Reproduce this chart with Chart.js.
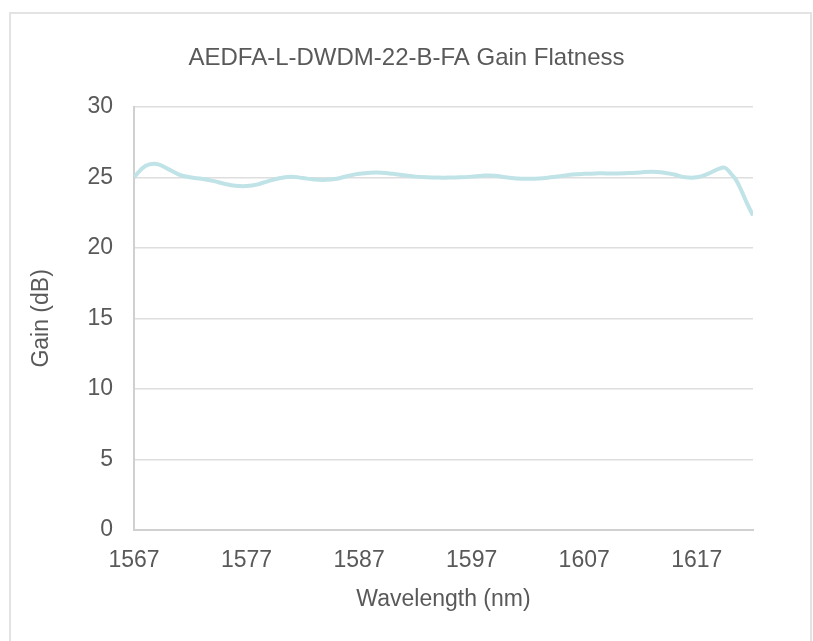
<!DOCTYPE html>
<html>
<head>
<meta charset="utf-8">
<script src="https://cdn.jsdelivr.net/npm/chart.js@4"></script>
<style>
  body { margin: 0; background: #fff; }
  #frame { position: absolute; left: 9px; top: 12px; width: 799px; height: 700px; border: 2px solid #e3e3e3; }
  #wrap { position: absolute; left: 0; top: 0; width: 813px; height: 641px; }
</style>
</head>
<body>
<div id="frame"></div>
<div id="wrap"><canvas id="myChart"></canvas></div>
<script>
let wavelength = [1567, 1568, 1569, 1570, 1571, 1572, 1573, 1574, 1575, 1576,
    1577, 1578, 1579, 1580, 1581, 1582, 1583, 1584, 1585, 1586,
    1587, 1588, 1589, 1590, 1591, 1592, 1593, 1594, 1595, 1596,
    1597, 1598, 1599, 1600, 1601, 1602, 1603, 1604, 1605, 1606,
    1607, 1608, 1609, 1610, 1611, 1612, 1613, 1614, 1615, 1616,
    1617, 1618, 1619, 1619.5, 1620, 1620.5, 1621, 1621.5, 1622];
let gain = [25.0, 25.8, 25.95, 25.6, 25.2, 25.0, 24.9, 24.75, 24.55, 24.4,
    24.38, 24.5, 24.75, 24.95, 25.05, 24.95, 24.85, 24.82, 24.9, 25.1,
    25.25, 25.33, 25.33, 25.25, 25.15, 25.05, 25.0, 24.98, 24.98, 25.0,
    25.05, 25.12, 25.12, 25.0, 24.92, 24.9, 24.92, 25.0, 25.1, 25.2,
    25.25, 25.28, 25.28, 25.28, 25.3, 25.35, 25.4, 25.35, 25.2, 25.0,
    25.0, 25.25, 25.62, 25.68, 25.3, 24.8, 24.0, 23.1, 22.3];
let xTicks = [1567, 1577, 1587, 1597, 1607, 1617];

let points = wavelength.map((w, i) => ({x: w, y: gain[i]}));
let textColor = "#595959";
let font = {family: "'Liberation Sans', Arial, sans-serif", size: 23};

new Chart("myChart", {
    type: "line",
    data: {
        datasets: [{
            data: points,
            borderColor: "#bfe3e6",
            borderWidth: 4,
            pointRadius: 0,
            tension: 0.4,
            fill: false
        }]
    },
    options: {
        responsive: true,
        maintainAspectRatio: false,
        animation: false,
        layout: {padding: 0},
        plugins: {
            legend: {display: false},
            tooltip: {enabled: false},
            title: {
                display: true,
                text: "AEDFA-L-DWDM-22-B-FA Gain Flatness",
                color: textColor,
                font: {family: font.family, size: 24, weight: "normal"},
                padding: {top: 44, bottom: 34}
            }
        },
        scales: {
            x: {
                type: "linear",
                min: 1567,
                max: 1622,
                afterBuildTicks: s => { s.ticks = xTicks.map(v => ({value: v})); },
                afterFit: s => { s.height = 111; },
                grid: {display: false},
                border: {color: "#d0d0d0", width: 2},
                ticks: {color: textColor, font: font, padding: 9, maxRotation: 0, callback: v => String(v)},
                title: {display: true, text: "Wavelength (nm)", color: textColor, font: font, padding: {top: 0, bottom: 28}}
            },
            y: {
                min: 0,
                max: 30,
                afterFit: s => { s.width = 134; },
                grid: {color: "#dedede", lineWidth: 1.5, drawTicks: false},
                border: {color: "#d0d0d0", width: 2},
                ticks: {stepSize: 5, color: textColor, font: font, padding: 21},
                title: {display: true, text: "Gain (dB)", color: textColor, font: font, padding: {top: 28, bottom: 0}}
            },
            yRight: {
                position: "right",
                afterFit: s => { s.width = 60; },
                grid: {drawOnChartArea: false, display: false},
                border: {display: false},
                ticks: {display: false}
            }
        }
    }
});
</script>
</body>
</html>
